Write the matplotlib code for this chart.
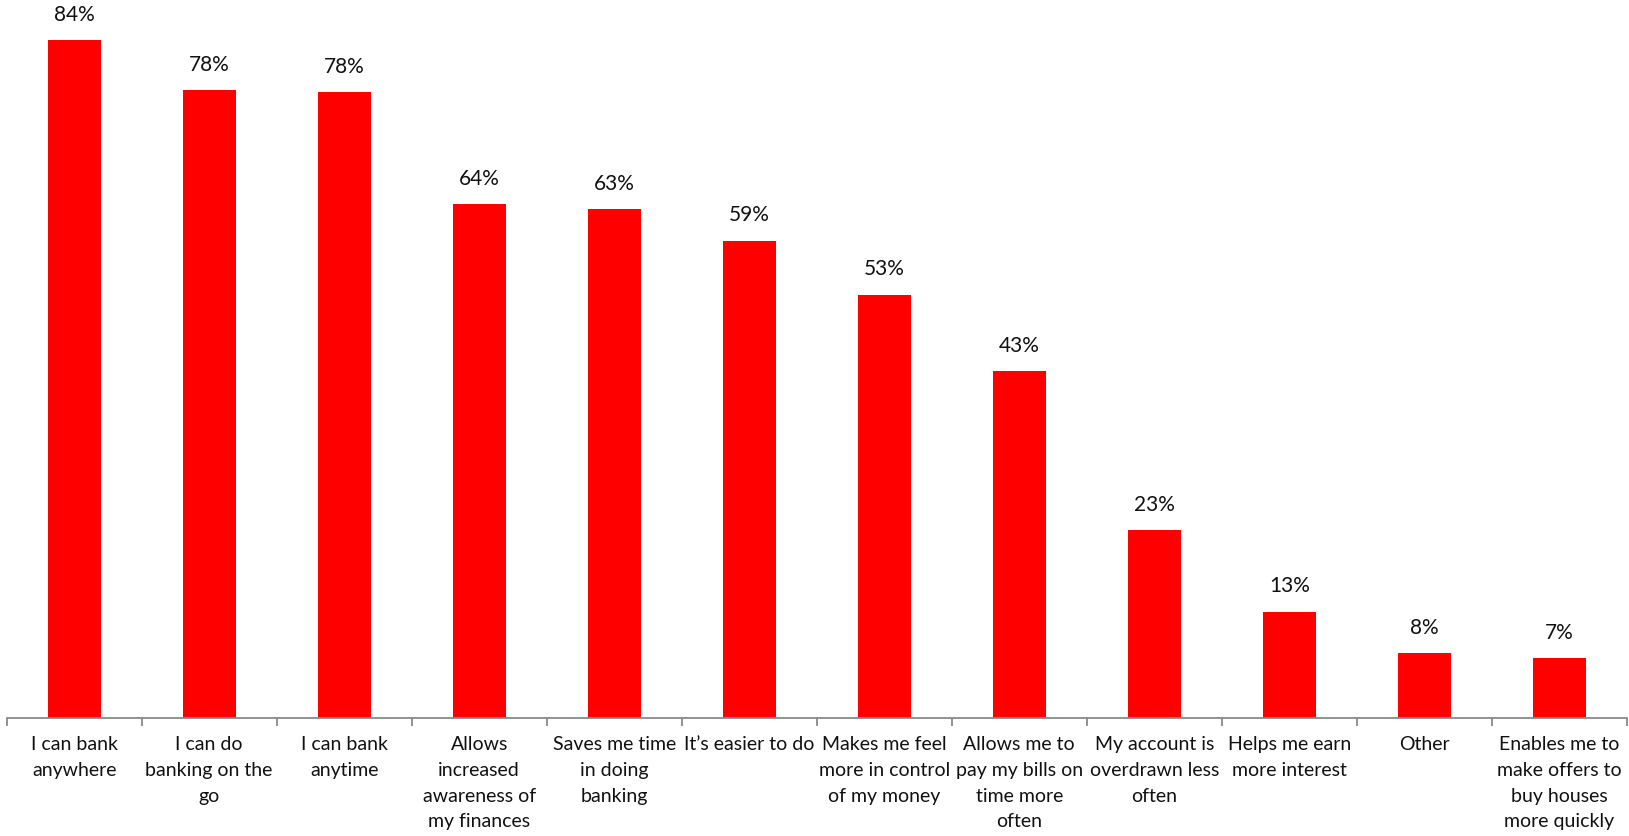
import numpy as np
import matplotlib.pyplot as plt

plt.rcParams['font.family'] = ['Lato', 'DejaVu Sans']

categories = [
    "I can bank\nanywhere",
    "I can do\nbanking on the\ngo",
    "I can bank\nanytime",
    "Allows\nincreased\nawareness of\nmy finances",
    "Saves me time\nin doing\nbanking",
    "It\u2019s easier to do",
    "Makes me feel\nmore in control\nof my money",
    "Allows me to\npay my bills on\ntime more\noften",
    "My account is\noverdrawn less\noften",
    "Helps me earn\nmore interest",
    "Other",
    "Enables me to\nmake offers to\nbuy houses\nmore quickly",
]
values = [84.0, 77.8, 77.6, 63.7, 63.1, 59.2, 52.5, 43.0, 23.3, 13.2, 8.05, 7.45]
value_labels = ["84%", "78%", "78%", "64%", "63%", "59%", "53%", "43%", "23%", "13%", "8%", "7%"]

fig = plt.figure(figsize=(16.29, 8.36), dpi=100)
ax = fig.add_axes([0.0041, 0.1408, 0.9945, 0.8592])

x = np.arange(len(categories))
bars = ax.bar(x, values, width=0.395, color='#FF0000')

for b, lab in zip(bars, value_labels):
    ax.annotate(lab, (b.get_x() + b.get_width() / 2, b.get_height()),
                xytext=(0, 11), textcoords='offset points',
                ha='center', va='bottom', fontsize=15, color='#111111')

ax.set_xlim(-0.5, len(categories) - 0.5)
ax.set_ylim(0, 89)
ax.set_yticks([])
for s in ['top', 'right', 'left']:
    ax.spines[s].set_visible(False)
ax.spines['bottom'].set_color('#898989')
ax.spines['bottom'].set_linewidth(1.3)

ax.set_xticks(x)
ax.set_xticklabels(categories, fontsize=14, color='#111111', linespacing=1.62)
ax.tick_params(axis='x', which='major', length=0, pad=13)
ax.set_xticks(np.arange(len(categories) + 1) - 0.5, minor=True)
ax.tick_params(axis='x', which='minor', length=6, width=1.3, color='#898989', direction='out')

fig.savefig('out.png', dpi=100)
